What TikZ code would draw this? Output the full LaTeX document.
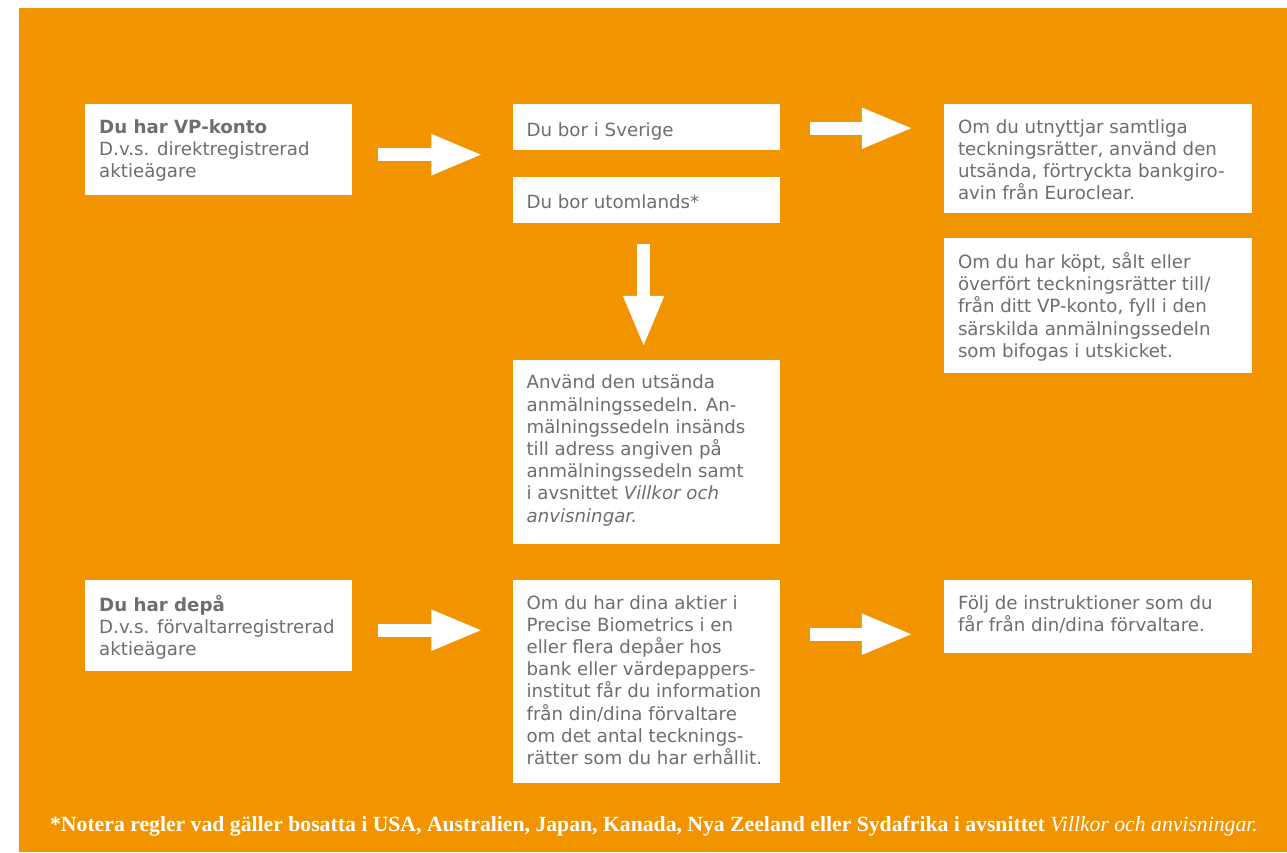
\documentclass[tikz,border=0pt]{standalone}
\usepackage{fontspec}
\setmainfont{DejaVu Sans}
\newfontfamily\notefont{Liberation Serif}
\usetikzlibrary{positioning,arrows.meta}
\definecolor{bgorange}{HTML}{F29400}
\definecolor{txtgray}{HTML}{6E6E6E}

\begin{document}
\begin{tikzpicture}
[x=1pt,y=-1pt,
 box/.style={fill=white,inner sep=0pt,minimum width=267pt},
 wide/.style={minimum width=308pt},
 txt/.style={anchor=north west,inner xsep=14pt,inner ysep=15pt,align=left,text=txtgray,font=\fontsize{18.2}{22.2}\selectfont},
 oneline/.style={yshift=-3pt},
 fatarrow/.style={draw=white,line width=13pt,-{Triangle[width=37pt,length=52pt]}}]
\useasboundingbox (0,0) rectangle (1287,852);
\fill[bgorange] (19,8) rectangle (1287,852);

% left column
\node[box,minimum height=91pt,anchor=north west,
      label={[txt]north west:{\textbf{Du har VP-konto}\\D.v.s. direktregistrerad\\aktieägare}}] (vp) at (85,104) {};
\node[box,minimum height=91pt,anchor=north west,
      label={[txt]north west:{\textbf{Du har depå}\\D.v.s. förvaltarregistrerad\\aktieägare}}] (depa) at (85,580) {};

% middle column
\node[box,minimum height=46pt,label={[txt,oneline]north west:Du bor i Sverige}]
      (sverige) [below right=0pt and 160pt of vp.north east] {};
\node[box,minimum height=46pt,label={[txt,oneline]north west:Du bor utomlands*}]
      (utoml) [below=26pt of sverige] {};
\node[box,minimum height=184pt,
      label={[txt]north west:{Använd den utsända\\anmälningssedeln. An-\\mälningssedeln insänds\\till adress angiven på\\anmälningssedeln samt\\i avsnittet \textit{Villkor och}\\\textit{anvisningar.}}}]
      (anvand) [below=137pt of utoml] {};
\node[box,minimum height=203pt,
      label={[txt]north west:{Om du har dina aktier i\\Precise Biometrics i en\\eller flera depåer hos\\bank eller värdepappers-\\institut får du information\\från din/dina förvaltare\\om det antal tecknings-\\rätter som du har erhållit.}}]
      (dina) [below right=0pt and 160pt of depa.north east] {};

% right column
\node[box,wide,minimum height=109pt,
      label={[txt]north west:{Om du utnyttjar samtliga\\teckningsrätter, använd den\\utsända, förtryckta bankgiro-\\avin från Euroclear.}}]
      (om) [below right=0pt and 164pt of sverige.north east] {};
\node[box,wide,minimum height=135pt,
      label={[txt]north west:{Om du har köpt, sålt eller\\överfört teckningsrätter till/\\från ditt VP-konto, fyll i den\\särskilda anmälningssedeln\\som bifogas i utskicket.}}]
      (kopt) [below=24pt of om] {};
\node[box,wide,minimum height=73pt,
      label={[txt]north west:{Följ de instruktioner som du\\får från din/dina förvaltare.}}]
      (folj) [below right=0pt and 164pt of dina.north east] {};

% arrows
\coordinate (a1) at ([yshift=-5pt]vp.east);
\draw[fatarrow,shorten <=26pt,shorten >=29pt] (a1) -- (a1 -| sverige.west);
\coordinate (a2) at ([yshift=-1pt]sverige.east);
\draw[fatarrow,shorten <=30pt,shorten >=30pt] (a2) -- (a2 -| om.west);
\coordinate (a3) at ([xshift=-2.5pt]utoml.south);
\draw[fatarrow,shorten <=21pt,shorten >=12pt] (a3) -- (a3 |- anvand.north);
\coordinate (a4) at ([yshift=-4.5pt]depa.east);
\draw[fatarrow,shorten <=26pt,shorten >=29pt] (a4) -- (a4 -| dina.west);
\coordinate (a5) at ([yshift=-17.5pt]folj.west);
\draw[fatarrow,shorten <=30pt,shorten >=30pt] (a5 -| dina.east) -- (a5);

% footnote
\node[text=white,font=\notefont\bfseries\fontsize{21.7}{24}\selectfont] (note) at (654,826)
  {*Notera regler vad gäller bosatta i USA, Australien, Japan, Kanada, Nya Zeeland eller Sydafrika i avsnittet {\mdseries\itshape Villkor och anvisningar.}};
\end{tikzpicture}
\end{document}
